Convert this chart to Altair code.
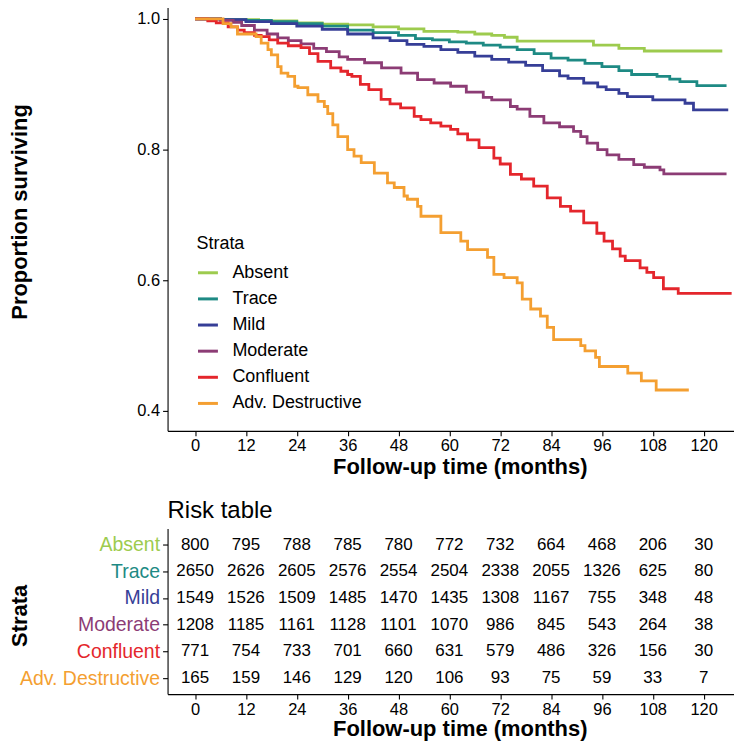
import altair as alt
import pandas as pd

FONT = "Liberation Sans"

strata = ["Absent", "Trace", "Mild", "Moderate", "Confluent", "Adv. Destructive"]
colors = ["#9dcb4e", "#1e8a84", "#363e97", "#8c3c75", "#e4262c", "#f49f31"]

# Kaplan-Meier step curves (time in months, proportion surviving)
absent_t = [0, 6, 15, 24, 30, 36, 42, 48, 54, 62, 66, 70, 73, 76, 94, 100, 106, 124.4]
absent_s = [1.0, 0.999, 0.997, 0.994, 0.992, 0.991, 0.988, 0.985, 0.981, 0.980, 0.977, 0.975, 0.972, 0.966, 0.960, 0.955, 0.951, 0.951]

trace_t = [0, 6, 12, 18, 24, 30, 36, 42, 48, 52, 56, 60, 64, 68, 72, 76, 80, 84, 88, 92, 96, 100, 103, 109, 112, 114.4, 118.4, 125.4]
trace_s = [1.0, 0.999, 0.998, 0.996, 0.993, 0.989, 0.983, 0.979, 0.975, 0.970, 0.968, 0.965, 0.963, 0.960, 0.957, 0.953, 0.947, 0.940, 0.937, 0.932, 0.927, 0.921, 0.915, 0.912, 0.908, 0.904, 0.898, 0.898]

mild_t = [0, 6, 12, 18, 24, 30, 36, 42, 46, 50, 54, 58, 62, 66, 70, 74, 78, 82, 86, 88, 91.7, 95, 97, 100, 102, 108, 115.6, 117.6, 125.8]
mild_s = [1.0, 0.999, 0.996, 0.993, 0.989, 0.984, 0.977, 0.971, 0.967, 0.961, 0.958, 0.953, 0.949, 0.943, 0.938, 0.934, 0.929, 0.921, 0.913, 0.909, 0.902, 0.896, 0.892, 0.886, 0.881, 0.876, 0.871, 0.861, 0.861]

moderate_t = [0, 6, 9, 11, 14, 17, 19.5, 22, 25, 28, 31, 34, 36, 40, 44, 48.6, 52.5, 56.4, 60.3, 64, 68, 70, 74.4, 76, 79, 82.3, 86, 89.3, 91, 92.5, 95, 97.2, 100, 103.5, 106, 109.7, 110.6, 125.4]
moderate_s = [1.0, 0.998, 0.995, 0.990, 0.983, 0.977, 0.971, 0.967, 0.962, 0.955, 0.950, 0.942, 0.938, 0.933, 0.925, 0.917, 0.907, 0.902, 0.897, 0.888, 0.880, 0.876, 0.866, 0.862, 0.851, 0.841, 0.835, 0.828, 0.820, 0.810, 0.800, 0.792, 0.785, 0.777, 0.773, 0.769, 0.763, 0.763]

confluent_t = [0, 3, 5, 7.8, 10, 11.6, 14, 15.6, 17.5, 19.5, 22, 25, 27, 29, 32, 34.4, 36, 37, 39, 41, 43.9, 46, 48.5, 51.7, 53.3, 55.6, 58, 60.3, 62, 64.3, 67, 70.5, 72, 74.4, 77, 79.9, 83.1, 86.2, 88.6, 91.7, 94.8, 96.5, 98.5, 100.3, 101.5, 105, 106.6, 108.2, 110.5, 114, 126.6]
confluent_s = [1.0, 0.997, 0.994, 0.988, 0.983, 0.979, 0.975, 0.973, 0.968, 0.963, 0.959, 0.956, 0.947, 0.935, 0.925, 0.920, 0.915, 0.912, 0.900, 0.892, 0.877, 0.870, 0.864, 0.851, 0.846, 0.841, 0.836, 0.831, 0.824, 0.815, 0.803, 0.787, 0.778, 0.762, 0.755, 0.744, 0.726, 0.713, 0.706, 0.688, 0.672, 0.660, 0.648, 0.637, 0.630, 0.619, 0.612, 0.604, 0.587, 0.580, 0.580]

advdes_t = [0, 6.6, 8.5, 10, 14.4, 15.6, 17.2, 18, 19.5, 20.3, 21.9, 23.5, 24.3, 26.6, 29, 30.5, 31.3, 32.5, 33.7, 36, 37.5, 39.2, 42.3, 45.4, 47, 49.3, 50.1, 52.5, 53.3, 58, 62.7, 64.3, 69, 70.5, 72.9, 76, 77.2, 79.2, 81.5, 83.1, 84.6, 91, 92, 94.5, 95.4, 102.1, 105.3, 108.8, 116.5]
advdes_s = [1.0, 0.993, 0.988, 0.977, 0.973, 0.963, 0.953, 0.945, 0.927, 0.917, 0.912, 0.897, 0.895, 0.884, 0.874, 0.866, 0.855, 0.838, 0.820, 0.800, 0.790, 0.780, 0.764, 0.749, 0.742, 0.729, 0.724, 0.713, 0.698, 0.673, 0.660, 0.647, 0.635, 0.609, 0.604, 0.596, 0.571, 0.556, 0.545, 0.528, 0.509, 0.500, 0.492, 0.482, 0.468, 0.458, 0.446, 0.432, 0.432]

# Risk table
risk_times = [0, 12, 24, 36, 48, 60, 72, 84, 96, 108, 120]
risk_absent = [800, 795, 788, 785, 780, 772, 732, 664, 468, 206, 30]
risk_trace = [2650, 2626, 2605, 2576, 2554, 2504, 2338, 2055, 1326, 625, 80]
risk_mild = [1549, 1526, 1509, 1485, 1470, 1435, 1308, 1167, 755, 348, 48]
risk_moderate = [1208, 1185, 1161, 1128, 1101, 1070, 986, 845, 543, 264, 38]
risk_confluent = [771, 754, 733, 701, 660, 631, 579, 486, 326, 156, 30]
risk_advdes = [165, 159, 146, 129, 120, 106, 93, 75, 59, 33, 7]

curves = [(absent_t, absent_s), (trace_t, trace_s), (mild_t, mild_s),
          (moderate_t, moderate_s), (confluent_t, confluent_s), (advdes_t, advdes_s)]
risks = [risk_absent, risk_trace, risk_mild, risk_moderate, risk_confluent, risk_advdes]

rows = []
for name, (ts, ss) in zip(strata, curves):
    for t, s in zip(ts, ss):
        rows.append({"stratum": name, "time": t, "surv": s, "ord": strata.index(name)})
km = pd.DataFrame(rows)

rrows = []
for name, counts in zip(strata, risks):
    for t, n in zip(risk_times, counts):
        rrows.append({"stratum": name, "time": t, "n": n})
risk = pd.DataFrame(rrows)

x_domain = [-6.49, 127.16]
color_scale = alt.Scale(domain=strata, range=colors)

top = alt.Chart(km).mark_line(interpolate="step-after", strokeWidth=2.8, clip=True).encode(
    x=alt.X("time:Q",
            scale=alt.Scale(domain=x_domain, nice=False, zero=False),
            axis=alt.Axis(values=risk_times, title="Follow-up time (months)", titleX=293,
                          labelPadding=2, titlePadding=2)),
    y=alt.Y("surv:Q",
            scale=alt.Scale(domain=[0.3695, 1.029], nice=False, zero=False),
            axis=alt.Axis(values=[0.4, 0.6, 0.8, 1.0], format=".1f", title="Proportion surviving",
                          titleX=-136, titleY=212, labelPadding=3)),
    color=alt.Color("stratum:N", scale=color_scale, sort=strata,
                    legend=alt.Legend(title="Strata", orient="none", legendX=29, legendY=236,
                                      titleFontSize=18, titleFontWeight="normal", titleFont=FONT,
                                      labelFontSize=18, labelFont=FONT, labelColor="black",
                                      titleColor="black",
                                      symbolType="stroke", symbolStrokeWidth=3, symbolSize=400,
                                      rowPadding=5.2, titlePadding=8, labelOffset=13, padding=0)),
    order=alt.Order("ord:Q"),
).properties(width=568, height=432)

label_cond = [{"test": f"datum.value == '{s}'", "value": c} for s, c in zip(strata, colors)]

bottom = alt.Chart(risk).mark_text(fontSize=17, font=FONT, color="black").encode(
    x=alt.X("time:Q",
            scale=alt.Scale(domain=x_domain, nice=False, zero=False),
            axis=alt.Axis(values=risk_times, title="Follow-up time (months)", titleX=293,
                          labelPadding=2, titlePadding=1)),
    y=alt.Y("stratum:N", sort=strata, scale=alt.Scale(domain=strata, padding=0.6),
            axis=alt.Axis(title="Strata", titleX=-136, titleY=87, labelPadding=3, labelFontSize=19.5,
                          labelColor={"condition": label_cond, "value": "black"})),
    text="n:Q",
).properties(width=568, height=166,
             title=alt.TitleParams("Risk table", anchor="start", frame="group", fontSize=24,
                                   fontWeight="normal", font=FONT, color="black", offset=6))

chart = alt.vconcat(top, bottom, spacing=21).properties(
    padding={"top": -9, "left": 0, "right": 0, "bottom": 0}
).configure_view(
    stroke=None
).configure_axis(
    grid=False, domainColor="black", tickColor="black", labelColor="black", titleColor="black",
    labelFont=FONT, titleFont=FONT, labelFontSize=16.5, titleFontSize=22, titleFontWeight="bold",
    tickSize=5, domainWidth=1.1, tickWidth=1.1
)

chart.save("out.html", embed_options={"renderer": "svg", "actions": False})
